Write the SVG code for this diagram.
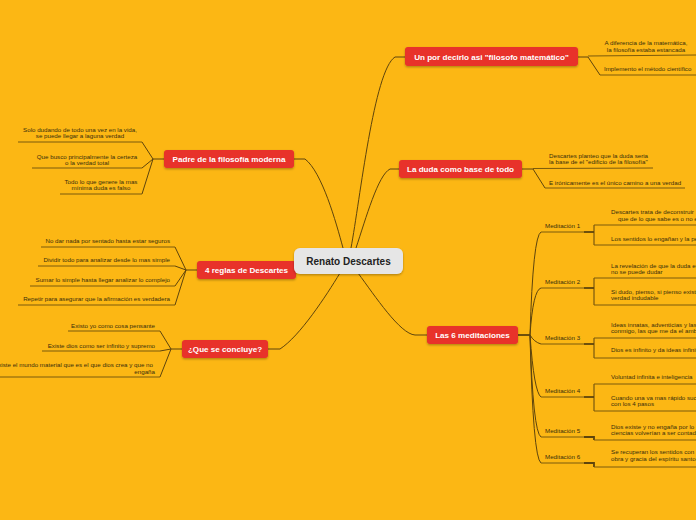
<svg xmlns="http://www.w3.org/2000/svg" width="696" height="520" viewBox="0 0 696 520">
<defs>
<filter id="sh" x="-10%" y="-30%" width="120%" height="170%">
<feDropShadow dx="0" dy="1.2" stdDeviation="0.9" flood-color="#000" flood-opacity="0.3"/>
</filter>
<style>
.main rect{fill:#e8302a;filter:url(#sh)}
.main text{fill:#fff;font-family:"Liberation Sans",Arial,sans-serif;font-weight:bold;font-size:8.1px;text-anchor:middle}
.center rect{fill:#e6e6e6;filter:url(#sh)}
.center text{fill:#222;font-family:"Liberation Sans",Arial,sans-serif;font-weight:bold;font-size:10px;text-anchor:middle}
.sub text{fill:#3a2e0c;font-family:"Liberation Sans",Arial,sans-serif;font-size:6.2px}
.sub line{stroke:#7b5a0c;stroke-width:1}
.conn path{stroke:#5e440c;fill:none;stroke-width:1}
.conn path.thick{stroke-width:1.8}
.m{text-anchor:middle}
.e{text-anchor:end}
</style>
</defs>
<rect width="696" height="520" fill="#fcb714"/>

<g id="connectors" class="conn">
<path d="M294,159 H305 C322,172 336,222 343,248"/>
<path d="M268,349 H280 C300,336 326,296 340,273"/>
<path d="M351,248 C360,200 374,70 395,57 H405"/>
<path d="M356,248 C366,218 378,175 390,169 H399"/>
<path d="M358,273 C375,296 400,334 415,335 H427"/>
<path d="M164,159 H153 L142,142"/>
<path d="M153,159 L142,168"/>
<path d="M153,159 L142,194"/>
<path d="M197,270 H186 L175,247"/>
<path d="M186,270 L175,266"/>
<path d="M186,270 L175,286"/>
<path d="M186,270 L175,305"/>
<path d="M182,349 H171 L160,331"/>
<path d="M171,349 L160,351"/>
<path d="M171,349 L160,377"/>
<path d="M578,57 H588"/>
<path d="M588,57 L600,75"/>
<path d="M522,169 H533"/>
<path d="M533,169 L545,188"/>
<path class="thick" d="M518,335 H530"/>
<path d="M530,335 Q533,236 541,232"/>
<path d="M530,335 Q533,290 541,288"/>
<path d="M530,335 Q534,342 541,344"/>
<path d="M530,335 Q534,392 541,397"/>
<path d="M530,335 Q533,432 541,437"/>
<path d="M530,335 Q533,458 541,463"/>
<path class="thick" d="M584,232 H594"/>
<path d="M594,225 V245"/>
<path class="thick" d="M584,288 H594"/>
<path d="M594,278 V305"/>
<path class="thick" d="M584,344 H594"/>
<path d="M594,338 V358"/>
<path class="thick" d="M584,397 H594"/>
<path d="M594,384 V411"/>
<path class="thick" d="M584,437 H594 V440"/>
<path class="thick" d="M584,463 H594 V467"/>
</g>

<g id="n-padre" class="main"><rect x="164" y="150" width="130" height="18" rx="3"/><text x="229" y="162">Padre de la filosofía moderna</text></g>
<g id="n-reglas" class="main"><rect x="197" y="261" width="99" height="18" rx="3"/><text x="246.5" y="273">4 reglas de Descartes</text></g>
<g id="n-concluye" class="main"><rect x="182" y="340" width="86" height="18" rx="3"/><text x="225" y="352">¿Que se concluye?</text></g>
<g id="n-matematico" class="main"><rect x="405" y="47" width="173" height="19" rx="3"/><text x="491.5" y="59.5">Un por decirlo asi "filosofo matemático"</text></g>
<g id="n-duda" class="main"><rect x="399" y="160" width="123" height="18" rx="3"/><text x="460.5" y="172">La duda como base de todo</text></g>
<g id="n-meditaciones" class="main"><rect x="427" y="326" width="91" height="18" rx="3"/><text x="472.5" y="338">Las 6 meditaciones</text></g>

<g id="n-center" class="center"><rect x="294" y="248" width="109" height="26" rx="6"/><text x="348.5" y="264.5">Renato Descartes</text></g>

<g id="s-padre-1" class="sub"><text class="m" x="80" y="132">Solo dudando de todo una vez en la vida,</text><text class="m" x="80" y="138">se puede llegar a laguna verdad</text><line x1="18" y1="142" x2="142" y2="142"/></g>
<g id="s-padre-2" class="sub"><text class="m" x="87" y="159">Que busco principalmente la certeza</text><text class="m" x="87" y="164.5">o la verdad total</text><line x1="32" y1="168" x2="142" y2="168"/></g>
<g id="s-padre-3" class="sub"><text class="m" x="101" y="184">Todo lo que genere la mas</text><text class="m" x="101" y="189.5">mínima duda es falso</text><line x1="60" y1="194" x2="142" y2="194"/></g>

<g id="s-reglas-1" class="sub"><text class="e" x="170" y="243">No dar nada por sentado hasta estar seguros</text><line x1="41" y1="247" x2="175" y2="247"/></g>
<g id="s-reglas-2" class="sub"><text class="e" x="170" y="262">Dividir todo para analizar desde lo mas simple</text><line x1="38" y1="266" x2="175" y2="266"/></g>
<g id="s-reglas-3" class="sub"><text class="e" x="170" y="282">Sumar lo simple hasta llegar analizar lo complejo</text><line x1="30" y1="286" x2="175" y2="286"/></g>
<g id="s-reglas-4" class="sub"><text class="e" x="170" y="301">Repetir para asegurar que la afirmación es verdadera</text><line x1="18" y1="305" x2="175" y2="305"/></g>

<g id="s-concl-1" class="sub"><text class="e" x="155" y="328">Existo yo como cosa pensante</text><line x1="68" y1="331" x2="160" y2="331"/></g>
<g id="s-concl-2" class="sub"><text class="e" x="155" y="348">Existe dios como ser infinito y supremo</text><line x1="42" y1="351" x2="160" y2="351"/></g>
<g id="s-concl-3" class="sub"><text class="e" x="153" y="367">Existe el mundo material que es el que dios crea y que no</text><text class="e" x="155" y="374">engaña</text><line x1="0" y1="377" x2="160" y2="377"/></g>

<g id="s-mat-1" class="sub"><text class="m" x="646" y="45">A diferencia de la matemática,</text><text class="m" x="646" y="52">la filosofía estaba estancada</text><line x1="588" y1="56" x2="696" y2="55"/></g>
<g id="s-mat-2" class="sub"><text x="604" y="71">Implemento el método científico</text><line x1="600" y1="75" x2="696" y2="75"/></g>

<g id="s-duda-1" class="sub"><text x="549" y="158">Descartes planteo que la duda seria</text><text x="549" y="164">la base de el "edificio de la filosofía"</text><line x1="533" y1="168.5" x2="653" y2="168"/></g>
<g id="s-duda-2" class="sub"><text x="549" y="185">E irónicamente es el único camino a una verdad</text><line x1="545" y1="188" x2="685" y2="188"/></g>

<g id="s-med-1" class="sub"><text x="545" y="228">Meditación 1</text><line x1="541" y1="232" x2="584" y2="232"/></g>
<g id="s-med-2" class="sub"><text x="545" y="284">Meditación 2</text><line x1="541" y1="288" x2="584" y2="288"/></g>
<g id="s-med-3" class="sub"><text x="545" y="340">Meditación 3</text><line x1="541" y1="344" x2="584" y2="344"/></g>
<g id="s-med-4" class="sub"><text x="545" y="393">Meditación 4</text><line x1="541" y1="397" x2="584" y2="397"/></g>
<g id="s-med-5" class="sub"><text x="545" y="433">Meditación 5</text><line x1="541" y1="437" x2="584" y2="437"/></g>
<g id="s-med-6" class="sub"><text x="545" y="459">Meditación 6</text><line x1="541" y1="463" x2="584" y2="463"/></g>

<g id="s-m1-a" class="sub"><text x="611" y="214">Descartes trata de deconstruir</text><text x="618" y="220.5">que de lo que sabe es o no es</text><line x1="594" y1="225" x2="696" y2="225"/></g>
<g id="s-m1-b" class="sub"><text x="611" y="241">Los sentidos lo engañan y la percepción</text><line x1="594" y1="245" x2="696" y2="245"/></g>
<g id="s-m2-a" class="sub"><text x="611" y="268">La revelación de que la duda es</text><text x="611" y="274">no se puede dudar</text><line x1="594" y1="278" x2="696" y2="278"/></g>
<g id="s-m2-b" class="sub"><text x="611" y="294">Si dudo, pienso, si pienso existo</text><text x="611" y="300">verdad indudable</text><line x1="594" y1="305" x2="696" y2="305"/></g>
<g id="s-m3-a" class="sub"><text x="611" y="327">Ideas innatas, adventicias y las</text><text x="611" y="333">conmigo, las que me da el ambiente</text><line x1="594" y1="338" x2="696" y2="338"/></g>
<g id="s-m3-b" class="sub"><text x="611" y="352">Dios es infinito y da ideas infinitas</text><line x1="594" y1="358" x2="696" y2="358"/></g>
<g id="s-m4-a" class="sub"><text x="611" y="379">Voluntad infinita e inteligencia</text><line x1="594" y1="384" x2="696" y2="384"/></g>
<g id="s-m4-b" class="sub"><text x="611" y="400">Cuando una va mas rápido sucede</text><text x="611" y="406">con los 4 pasos</text><line x1="594" y1="411" x2="696" y2="411"/></g>
<g id="s-m5-a" class="sub"><text x="611" y="429">Dios existe y no engaña por lo</text><text x="611" y="435">ciencias volverían a ser contadas</text><line x1="594" y1="440" x2="696" y2="440"/></g>
<g id="s-m6-a" class="sub"><text x="611" y="454">Se recuperan los sentidos con</text><text x="611" y="461">obra y gracia del espíritu santo</text><line x1="594" y1="467" x2="696" y2="467"/></g>
</svg>
